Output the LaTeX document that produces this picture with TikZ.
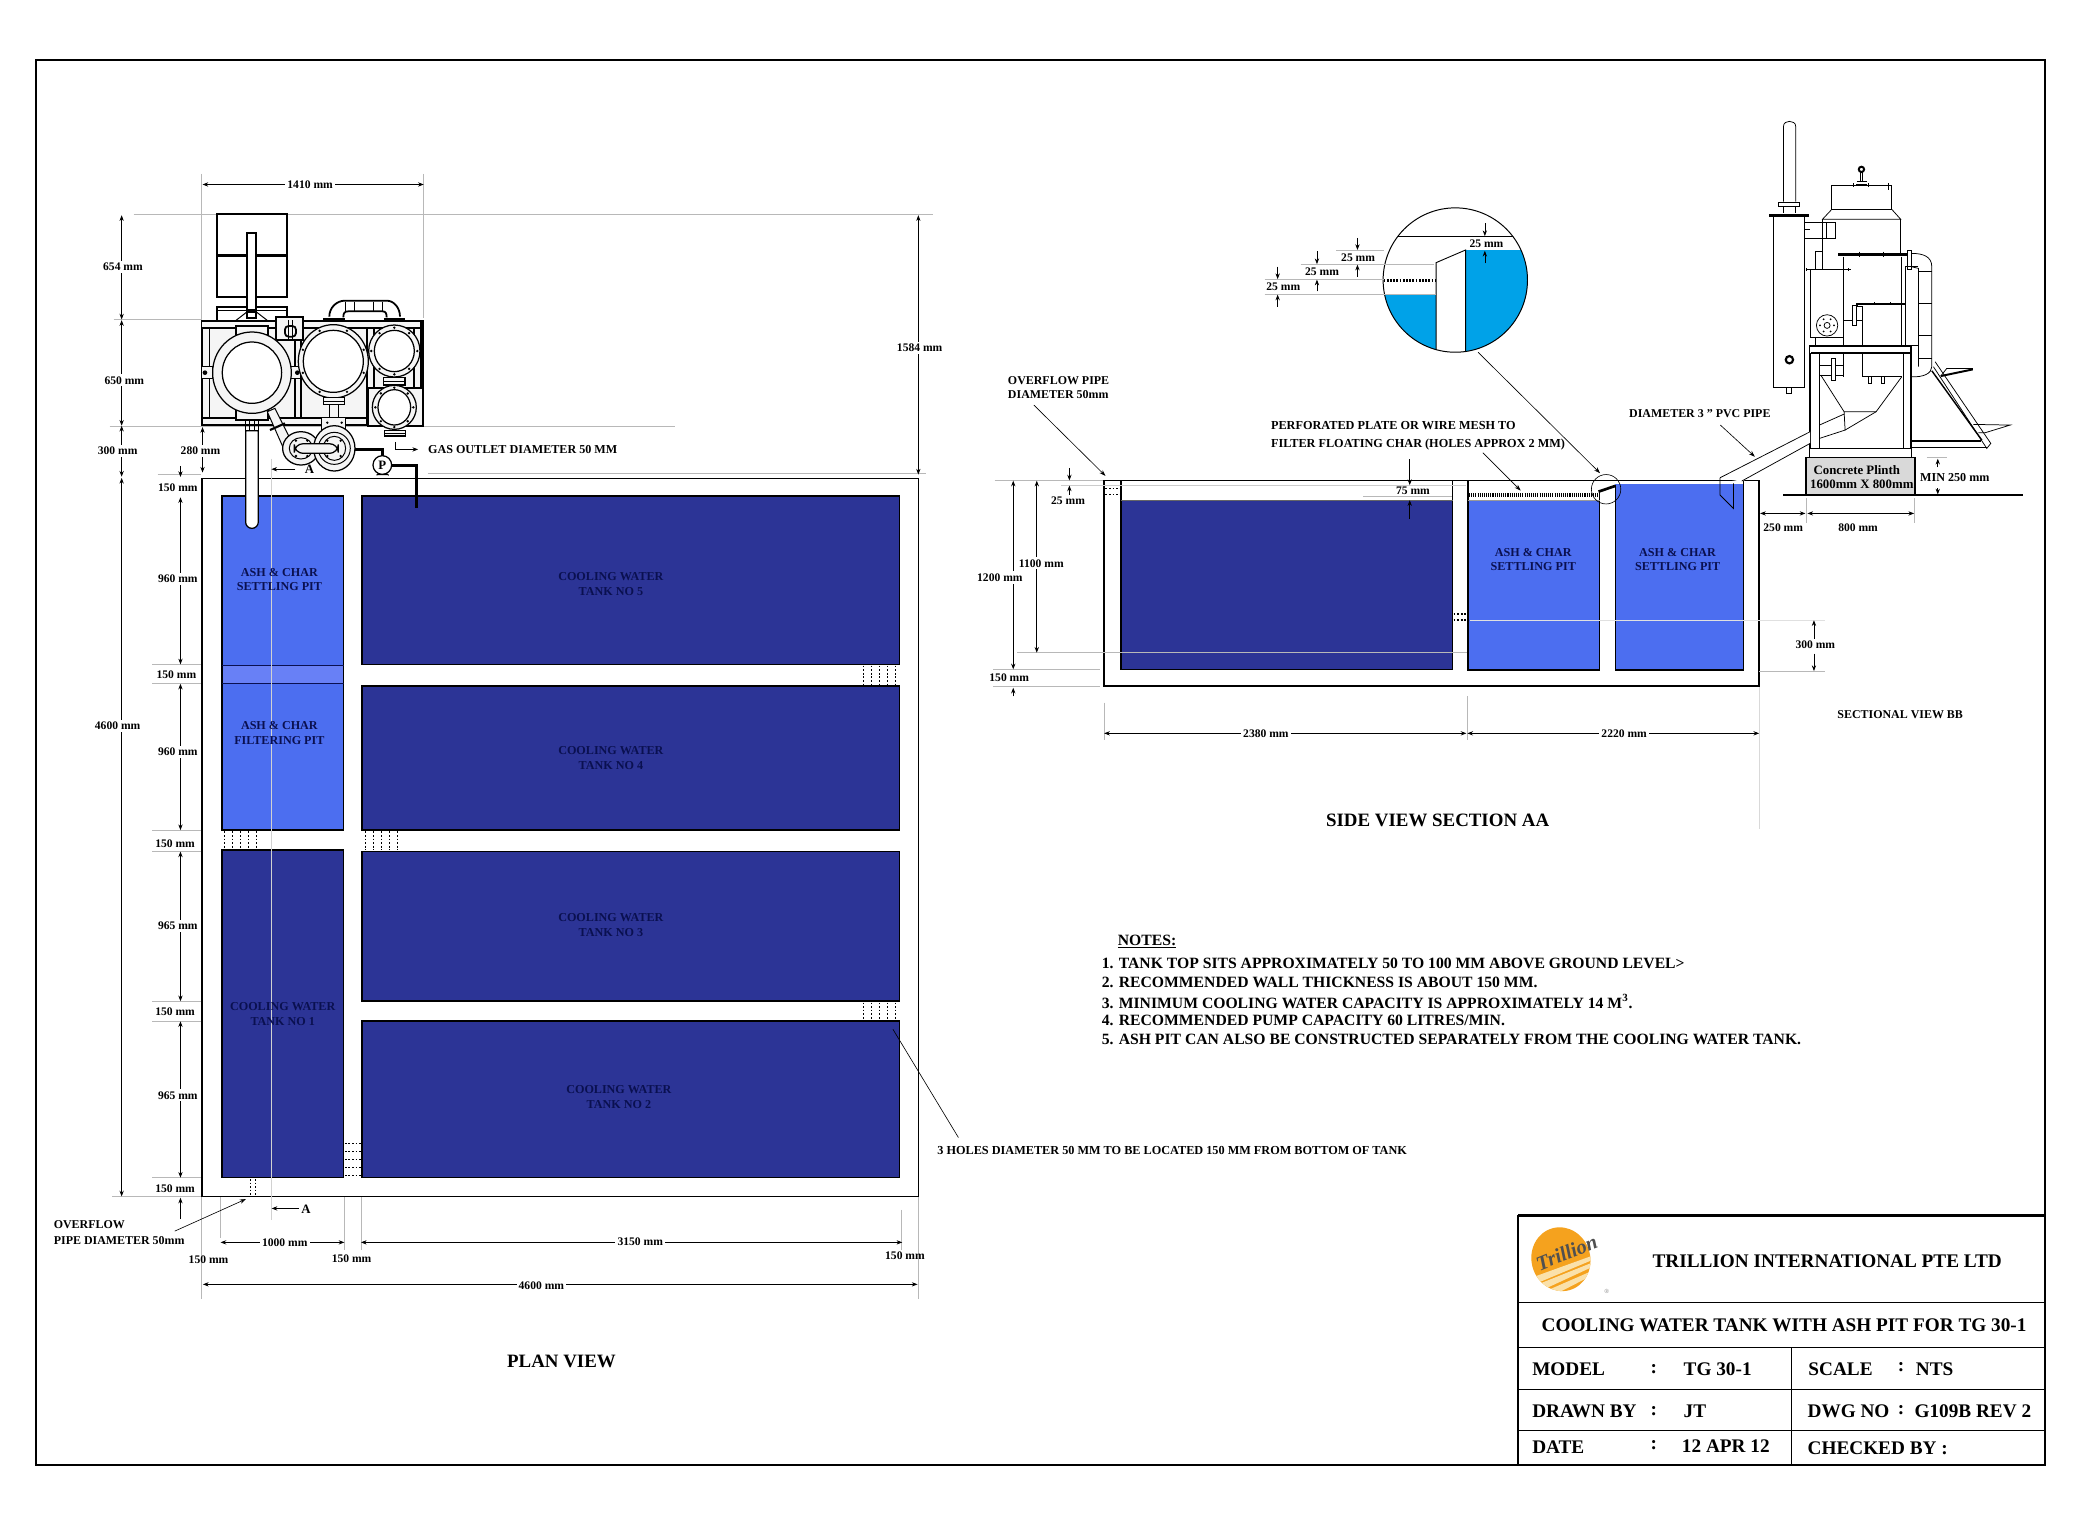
\documentclass[tikz,border=0pt]{standalone}
\usepackage{fontspec}
\setmainfont{Liberation Serif}
\usetikzlibrary{arrows.meta}
\definecolor{darkw}{RGB}{44,52,150}
\definecolor{lightw}{RGB}{76,110,240}
\definecolor{bandw}{RGB}{104,128,246}
\definecolor{cyanw}{RGB}{0,162,232}
\definecolor{navy}{RGB}{10,16,80}
\definecolor{speck}{RGB}{245,245,245}
\definecolor{plinth}{RGB}{217,217,217}
\definecolor{logoor}{RGB}{245,162,30}
\definecolor{logocr}{RGB}{250,225,170}
\definecolor{logogr}{RGB}{80,80,80}
\newcounter{lc}
\newcommand{\tl}[4][]{\stepcounter{lc}\node[lab,#1] (n\arabic{lc}) at (#2,#3) {#4};}
\tikzset{
 lab/.style={inner sep=0pt,font=\fontsize{6.5}{8.25}\selectfont\bfseries,align=center},
 tklab/.style={text=navy,font=\fontsize{6.8}{8.25}\selectfont\bfseries},
 wl/.style={fill=white,inner sep=1.2pt},
 fgas/.style={font=\fontsize{6.8}{8.25}\selectfont\bfseries},
 fnote/.style={font=\fontsize{8.8}{10}\selectfont\bfseries,anchor=west},
 fview/.style={font=\fontsize{10.6}{12}\selectfont\bfseries},
 ftit/.style={font=\fontsize{10.8}{12}\selectfont\bfseries,anchor=west},
 fann/.style={font=\fontsize{6.7}{8.1}\selectfont\bfseries,anchor=west,align=left},
 ext/.style={draw=black!28,line width=.45pt},
 thinw/.style={draw=black!15,line width=.45pt},
 dima/.style={draw=black,line width=.4pt,{Stealth[length=3.2pt,width=2.4pt]}-{Stealth[length=3.2pt,width=2.4pt]}},
 dimr/.style={draw=black,line width=.4pt,-{Stealth[length=3.2pt,width=2.4pt]}},
 lead/.style={draw=black,line width=.35pt,-{Stealth[length=3.5pt,width=2.4pt]}},
 tk/.style={draw=black,line width=.9pt},
 pl/.style={draw=black,line width=.55pt},
 sl/.style={draw=black,line width=.42pt},
 hv/.style={draw=black,line width=1pt},
 xh/.style={draw=black,line width=1.9pt},
 hole/.style={draw=black,line width=.4pt,dash pattern=on 1pt off 1pt},
}
\begin{document}
\begin{tikzpicture}[x=.75pt,y=-.75pt]
\useasboundingbox (0,0) rectangle (1568,1146);
\fill[white] (0,0) rectangle (1568,1146);
% sheet frame
\draw[draw=black,line width=1.1pt] (27,45) rectangle (1530,1096);
% ---------- PLAN: extension lines
\draw[ext] (100,160.5) -- (698,160.5);
\draw[ext] (85,239) -- (151,239);
\draw[ext] (82,318.7) -- (505,318.7);
\draw[ext] (118,355) -- (150,355);
\draw[ext] (320,354.5) -- (693,354.5);
\draw[ext] (151,130) -- (151,319);
\draw[ext] (317,130) -- (317,238);
\draw[ext] (114,497) -- (150,497);\draw[ext] (114,511) -- (150,511);
\draw[ext] (114,621) -- (150,621);\draw[ext] (114,637) -- (150,637);
\draw[ext] (114,749) -- (150,749);\draw[ext] (114,764) -- (150,764);
\draw[ext] (114,881) -- (150,881);\draw[ext] (84,895) -- (150,895);
\draw[ext] (151,895) -- (151,972);\draw[ext] (165,881) -- (165,926);
\draw[ext] (258,895) -- (258,935);\draw[ext] (270,895) -- (270,935);
\draw[ext] (674,905) -- (674,935);\draw[ext] (687,895) -- (687,972);
% ---------- PLAN: tank
\draw[tk,fill=white] (151,358) rectangle (687,895);
\filldraw[tk,fill=lightw] (166,371) rectangle (257,621);
\fill[bandw] (166.5,498) rectangle (256.5,511);
\draw[draw=navy,line width=.3pt] (166,498) -- (257,498) (166,511) -- (257,511);
\filldraw[tk,fill=darkw] (166,636) rectangle (257,881);
\filldraw[tk,fill=darkw] (271,371) rectangle (673,497);
\filldraw[tk,fill=darkw] (271,513) rectangle (673,621);
\filldraw[tk,fill=darkw] (271,637) rectangle (673,749);
\filldraw[tk,fill=darkw] (271,764) rectangle (673,881);
% holes
\foreach \x in {646,652,658,664,670}{\draw[hole] (\x,498) -- (\x,512); \draw[hole] (\x,750) -- (\x,763);}
\foreach \x in {168,174,180,186,192}{\draw[hole] (\x,622) -- (\x,635);}
\foreach \x in {273,279,285,291,297}{\draw[hole] (\x,622) -- (\x,636);}
\foreach \y in {855,861,867,873,879}{\draw[hole] (258,\y) -- (270,\y);}
\foreach \x in {187,191}{\draw[hole] (\x,882) -- (\x,894);}
% section line
\draw[draw=black!18,line width=.45pt] (202.7,343) -- (202.7,913);
% tank labels
\tl[tklab]{457}{437}{COOLING WATER\\TANK NO 5}
\tl[tklab]{457}{567}{COOLING WATER\\TANK NO 4}
\tl[tklab]{457}{692}{COOLING WATER\\TANK NO 3}
\tl[tklab]{463}{820.5}{COOLING WATER\\TANK NO 2}
\tl[tklab]{211.5}{758.5}{COOLING WATER\\TANK NO 1}
\tl[tklab]{209}{433.5}{ASH \& CHAR\\SETTLING PIT}
\tl[tklab]{209}{548.5}{ASH \& CHAR\\FILTERING PIT}
% ---------- PLAN: machine
\begin{scope}[shift={(142.1,149.6)},x=.18705pt,y=-.18705pt]
 % tower boxes
 \draw[hv] (80,42) rectangle (292,290);
 \draw[xh] (80,167) -- (292,167);
 \draw[hv] (80,320) rectangle (292,362);
 \draw[pl] (80,330) -- (292,330);
 \filldraw[hv,fill=white] (172,100) rectangle (198,355);
 \draw[xh] (172,333) -- (198,333);
 \draw[pl] (137,362) -- (172,335) (233,362) -- (198,335);
 % frame
 \filldraw[pl,fill=speck] (35,362) rectangle (700,385);
 \filldraw[hv,fill=speck] (35,385) rectangle (530,675);
 \draw[hv] (35,655) -- (530,655);
 \draw[pl] (58,385) -- (58,655);
 \draw[hv] (315,420) -- (315,655) (332,420) -- (332,655);
 \filldraw[hv,fill=speck] (530,385) rectangle (700,570);
 \draw[hv] (553,385) -- (553,565);
 \draw[hv] (672,385) -- (672,565);
 \draw[line width=1.4pt] (695,362) -- (695,678);
 \filldraw[hv,fill=speck] (535,565) rectangle (700,678);
 \draw[hv] (35,362) -- (700,362);
 % tabs
 \filldraw[pl,fill=speck] (35,498) rectangle (68,535);
 \fill (45,518) circle (7);
 \filldraw[pl,fill=speck] (303,498) rectangle (332,535);
 \fill (322,518) circle (7);
 \filldraw[hv,fill=speck] (137,378) rectangle (233,405);
 \filldraw[hv,fill=speck] (137,630) rectangle (233,660);
 % latch
 \filldraw[hv,fill=speck] (258,352) rectangle (340,420);
 \draw[hv,rounded corners=2pt] (285,378) rectangle (318,410);
 \draw[pl] (295,360) -- (295,420) (308,360) -- (308,420);
 % pipes to pump circles
 \filldraw[pl,fill=speck] (232,635) -- (285,755) -- (300,715) -- (255,625) -- cycle;
 \draw[xh,line width=1.2pt] (240,690) -- (285,670);
 % big rings
 \filldraw[hv,line width=.7pt,fill=speck] (186,518) circle[x radius=118,y radius=122];
 \filldraw[hv,line width=.7pt,fill=white] (186,518) circle[x radius=89,y radius=92];
 \filldraw[hv,line width=.7pt,fill=speck] (430,484) circle[x radius=105,y radius=110];
 \filldraw[hv,line width=.7pt,fill=white] (430,484) circle[x radius=90,y radius=93];
 \foreach \a in {20,65,115,160,200,245,295,340}{\fill ({430+97*cos(\a)},{484+101*sin(\a)}) circle (4);}
 \filldraw[hv,line width=.7pt,fill=speck] (613,453) circle[x radius=77,y radius=78];
 \filldraw[hv,line width=.7pt,fill=white] (613,453) circle[x radius=60,y radius=62];
 \foreach \a in {0,50,90,130,180,230,270,310}{\fill ({613+69*cos(\a)},{453+70*sin(\a)}) circle (4);}
 \filldraw[hv,line width=.7pt,fill=speck] (613,622) circle[x radius=66,y radius=66];
 \filldraw[hv,line width=.7pt,fill=white] (613,622) circle[x radius=49,y radius=53];
 \foreach \a in {0,45,90,135,180,225,270,315}{\fill ({613+57*cos(\a)},{622+59*sin(\a)}) circle (4);}
 % flanges
 \filldraw[hv,line width=.9pt,fill=speck] (400,593) rectangle (463,614);
 \draw[pl] (400,603) -- (463,603);
 \filldraw[hv,line width=.9pt,fill=speck] (580,533) rectangle (645,555);
 \draw[pl] (580,544) -- (645,544);
 \filldraw[hv,line width=.9pt,fill=speck] (583,692) rectangle (646,708);
 \draw[pl] (583,700) -- (646,700);
 \draw[pl] (418,614) -- (418,650) (445,614) -- (445,650);
 \filldraw[pl,fill=speck] (395,652) rectangle (468,700);
 \fill (412,668) circle (4); \fill (455,668) circle (4);
 % pump circles
 \filldraw[hv,line width=.7pt,fill=speck] (333,745) circle[x radius=55,y radius=50];
 \draw[pl] (333,745) circle[x radius=35,y radius=32];
 \filldraw[hv,line width=.7pt,fill=speck] (433,745) circle[x radius=62,y radius=68];
 \draw[pl] (433,745) circle[x radius=48,y radius=48];
 \draw[pl] (433,745) circle[x radius=34,y radius=36];
 \foreach \p in {(318,722),(352,722),(318,768),(352,768),(412,722),(452,722),(412,768),(452,768)}{\fill \p circle (4);}
 \draw[pl,line width=.7pt,fill=speck,rounded corners=5pt] (313,731) rectangle (445,760);
 % gas pipe to pump
 \draw[line width=1.5pt] (495,748) -- (578,748) -- (578,770);
 \filldraw[hv,line width=.7pt,fill=white] (577,795) circle (28);
 \draw[pl] (560,824) -- (595,824) (566,820) -- (560,826) (589,820) -- (596,826);
 \tl[font=\fontsize{7.2}{8}\selectfont\bfseries]{577}{795}{P}
 \draw[line width=2pt] (605,797) -- (680,797) -- (680,925);
 % top arch
 \draw[hv] (418,350) arc[start angle=180,end angle=270,x radius=47,y radius=48] -- (590,302) arc[start angle=270,end angle=360,x radius=40,y radius=48];
 \draw[hv] (460,352) .. controls (460,338) and (465,334) .. (475,334) -- (578,334) .. controls (588,334) and (590,342) .. (590,352);
 \draw[pl] (468,305) -- (468,334) (495,305) -- (495,334) (550,305) -- (550,334) (578,305) -- (578,334);
 \draw[xh,line width=1.4pt] (400,358) -- (465,358) (582,358) -- (645,358);
 % settling pipe
 \draw[pl] (167,660) -- (167,690) (205,660) -- (205,690) (180,660) -- (180,690) (193,660) -- (193,690);
 \filldraw[hv,line width=.7pt,fill=white] (167,692) -- (167,966) arc[start angle=180,end angle=0,radius=19] -- (205,692) -- cycle;
\end{scope}
% ---------- PLAN: dimensions
\draw[dima] (151.5,138) -- (317,138); \tl[wl]{232}{138}{1410 mm}
\draw[dima] (91,161) -- (91,239); \tl[wl]{92}{199.5}{654 mm}
\draw[dima] (91,239.5) -- (91,318.5); \tl[wl]{93}{284.5}{650 mm}
\draw[dima] (91,318.5) -- (91,356.6); \tl[wl]{88}{337.5}{300 mm}
\draw[dima] (91,357.5) -- (91,895); \tl[wl]{88}{543}{4600 mm}
\draw[dima] (151.5,319.5) -- (151.5,353.5); \tl[wl]{150}{337.5}{280 mm}
\draw[dimr] (135,348.6) -- (135,356.8);
\tl{133}{364.5}{150 mm}
\draw[dima] (135,372) -- (135,497); \tl[wl]{133}{433}{960 mm}
\tl[wl]{132}{505}{150 mm}
\draw[dima] (135,511.5) -- (135,621); \tl[wl]{133}{562.5}{960 mm}
\tl[wl]{131}{631}{150 mm}
\draw[dima] (135,637) -- (135,749); \tl[wl]{133}{692.5}{965 mm}
\tl[wl]{131}{757}{150 mm}
\draw[dima] (135,764) -- (135,881); \tl[wl]{133}{819.5}{965 mm}
\tl[wl]{131}{889}{150 mm}
\draw[dimr] (135,912) -- (135,896);
\draw[dima] (687,161) -- (687,355); \tl[wl]{688}{260}{1584 mm}
\draw[dima] (165,929.4) -- (257.6,929.4); \tl[wl]{213}{930}{1000 mm}
\draw[dima] (270,929.4) -- (675,929.4); \tl[wl]{479}{929}{3150 mm}
\draw[dima] (151.8,960.8) -- (686.4,960.8); \tl[wl]{405}{961.5}{4600 mm}
\tl{156}{942}{150 mm}
\tl{263}{941.5}{150 mm}
\tl{677}{939}{150 mm}
% section marks and annotations
\draw[dimr] (221,351) -- (203,351); \tl[font=\fontsize{7.2}{8}\selectfont\bfseries]{231.5}{351}{A}
\draw[dimr] (223.7,904) -- (203.2,904); \tl[font=\fontsize{7.2}{8}\selectfont\bfseries]{229}{904.5}{A}
\draw[dimr] (295.6,330.5) -- (295.6,336.2) -- (312.8,336.2);
\tl[fann,fgas]{320}{336}{GAS OUTLET DIAMETER 50 MM}
\tl[fann]{40}{916}{OVERFLOW}
\tl[fann]{40}{928}{PIPE DIAMETER 50mm}
\draw[lead] (130.7,921) -- (184,897);
\coordinate (holesEnd) at (717,851);
\draw[draw=black,line width=.35pt] (668,770) -- (holesEnd);
\tl[fann,font=\fontsize{6.87}{8}\selectfont\bfseries]{701}{860.5}{3 HOLES DIAMETER 50 MM TO BE LOCATED 150 MM FROM BOTTOM OF TANK}
\tl[fview]{420}{1018.5}{PLAN VIEW}
% ---------- SIDE VIEW
\draw[ext] (744,359.6) -- (826,359.6);
\draw[ext] (743,500.7) -- (823,500.7);
\draw[ext] (743,513.5) -- (823,513.5);
\draw[ext] (826,525.7) -- (826,553.6);
\draw[ext] (1097.7,521) -- (1097.7,553.6);
\draw[thinw] (1316,514) -- (1316,620);
\draw[tk] (826,359.6) rectangle (1316,513.3);
\fill[darkw] (838.5,374) rectangle (1086.6,500.7);
\fill[lightw] (1098,374) rectangle (1196.6,501);
\fill[lightw] (1208.4,362) rectangle (1304.2,501);
\draw[tk] (838.5,359.6) -- (838.5,500.7) -- (1086.6,500.7) -- (1086.6,359.6);
\draw[tk] (1098,359.6) -- (1098,501) -- (1196.6,501) -- (1196.6,367.8);
\draw[tk] (1208.4,363) -- (1208.4,501) -- (1304.2,501) -- (1304.2,359.6);
\draw[line width=.3pt,draw=black!60] (838.5,374) -- (1086.6,374);
\draw[line width=.3pt,draw=black!40] (1098,374) -- (1196.6,374);
% weir, mesh, section lines
\draw[line width=1.5pt] (1195.8,367.8) -- (1208.4,363.5);
\draw[draw=black,line width=2.4pt,dash pattern=on .6pt off .6pt] (1098.9,370.5) -- (1195,370.5);
\draw[ext] (761,488.3) -- (1097.7,488.3);
\draw[ext,draw=black!20] (794,363) -- (1097,363);
\draw[ext] (1020,371) -- (1086,371);
\draw[ext,draw=black!12] (1100,464) -- (1365,464);
\draw[ext] (1316,502) -- (1365,502);
% holes
\foreach \y in {365.3,369.8}{\draw[hole,line width=.7pt] (827,\y) -- (838,\y);}
\foreach \y in {459.3,463.8}{\draw[hole,line width=.7pt] (1087.5,\y) -- (1097.2,\y);}
% labels
\tl[tklab]{1147}{418.5}{ASH \& CHAR\\SETTLING PIT}
\tl[tklab]{1255}{418.5}{ASH \& CHAR\\SETTLING PIT}
% side dims
\draw[dima] (758,359.6) -- (758,500.7); \tl[wl]{748}{432}{1200 mm}
\draw[dima] (775.6,359.6) -- (775.6,488.3); \tl[wl]{779}{421.5}{1100 mm}
\tl{755}{507}{150 mm}
\draw[dimr] (758,521) -- (758,514.5);
\draw[dimr] (800,350) -- (800,359.4);
\draw[dimr] (800,370) -- (800,363.2);
\tl{799}{374.5}{25 mm}
\draw[dimr] (1054.6,343.6) -- (1054.6,362.9);
\draw[dimr] (1054.6,388) -- (1054.6,374.2);
\tl{1057}{367.5}{75 mm}
\draw[dima] (826,548.6) -- (1097,548.6); \tl[wl]{947}{548.5}{2380 mm}
\draw[dima] (1097.7,548.6) -- (1316,548.6); \tl[wl]{1215}{549}{2220 mm}
\draw[dimr] (1357,478) -- (1357,464);
\draw[dimr] (1357,489) -- (1357,502);
\tl{1358}{482.5}{300 mm}
\tl[font=\fontsize{6.7}{8}\selectfont\bfseries]{1421.5}{534.5}{SECTIONAL VIEW BB}
\tl[fview]{1075.5}{613.5}{SIDE VIEW SECTION AA}
% annotations
\tl[fann]{753.8}{290}{OVERFLOW PIPE\\DIAMETER 50mm}
\draw[lead] (773.4,303) -- (827,356);
\tl[fann,font=\fontsize{6.87}{10.2}\selectfont\bfseries]{950.6}{326}{PERFORATED PLATE OR WIRE MESH TO\\FILTER FLOATING CHAR (HOLES APPROX 2 MM)}
\draw[lead] (1109.3,338.7) -- (1137.6,367);
\tl[fann]{1218.5}{309.5}{DIAMETER 3 " PVC PIPE}
\draw[lead] (1287,318) -- (1312.8,341.7);
% small detail circle and leader
\coordinate (detA) at (1105.7,263.5);
\coordinate (detB) at (1197,354);
\draw[lead] (detA) -- (detB);
\draw[draw=black,line width=.35pt] (1201.5,366) circle (11);
% ---------- DETAIL CIRCLE
\begin{scope}
 \clip (1088.7,209.5) circle (54);
 \fill[white] (1034,155) rectangle (1144,264);
 \fill[cyanw] (1096.4,187) rectangle (1144,264);
 \fill[cyanw] (1034,220.7) rectangle (1074.3,264);
 \draw[line width=.7pt] (1030,176.8) -- (1147,176.8);
 \draw[line width=.5pt] (1074.3,264) -- (1074.3,196.5) -- (1096.4,187) -- (1096.4,264);
 \draw[line width=1.4pt,dash pattern=on 1pt off .8pt] (1035,209.7) -- (1073.5,209.7);
\end{scope}
\draw[draw=black,line width=.55pt] (1088.7,209.5) circle (54);
\draw[ext] (999.5,187.3) -- (1035,187.3);
\draw[ext] (973,197.8) -- (1073,197.8);
\draw[ext] (946,209) -- (1035,209);
\draw[ext] (946,220.2) -- (1074,220.2);
\draw[dimr] (1015.5,178) -- (1015.5,187);
\draw[dimr] (1015.5,207) -- (1015.5,198);
\draw[dimr] (985.2,188) -- (985.2,197.6);
\draw[dimr] (985.2,218) -- (985.2,209.2);
\draw[dimr] (955.8,199.5) -- (955.8,208.8);
\draw[dimr] (955.8,229.5) -- (955.8,220.4);
\draw[dimr] (1110.8,167) -- (1110.8,176.6);
\draw[dimr] (1110.8,197) -- (1110.8,187.6);
\tl{1016}{192.5}{25 mm}
\tl{989}{203}{25 mm}
\tl{960}{214.5}{25 mm}
\tl{1112}{182.5}{25 mm}
% ---------- SIDE MACHINE
\begin{scope}[shift={(1271.8,82.3)},x=.18705pt,y=-.18705pt]
 % stack
 \draw[sl] (250,275) -- (250,50) .. controls (250,38) and (260,34) .. (268,34) .. controls (277,34) and (287,38) .. (287,50) -- (287,275);
 \filldraw[sl,fill=white] (235,277) rectangle (297,290);
 \draw[sl] (250,290) -- (250,310) (287,290) -- (287,310);
 \draw[line width=1.7pt] (207,315) -- (327,315);
 \draw[sl] (220,320) rectangle (313,833);
 \draw[sl] (258,833) rectangle (275,851);
 \draw[line width=1.2pt] (268,749) circle (11);
 \draw[sl] (313,337) rectangle (406,385);
 \draw[sl] (380,337) -- (380,385) (313,358) -- (330,358);
 % top of reactor
 \draw[line width=1.1pt,fill=white] (484,178) circle (8);
 \draw[sl] (480,187) -- (480,215) (488,187) -- (488,215) (468,222) -- (502,222) (470,215) -- (500,215);
 \draw[sl] (395,226) rectangle (575,298);
 \draw[sl] (395,226) -- (395,242) (575,226) -- (575,242) (460,220) -- (460,232) (505,220) -- (505,232) (565,220) -- (565,240);
 \draw[sl] (395,298) -- (367,328) -- (602,328) -- (575,298);
 \draw[sl] (367,328) -- (367,478) (602,328) -- (602,430);
 \draw[sl] (347,425) rectangle (367,478);
 \draw[line width=1.6pt] (415,433) -- (620,433);
 \draw[sl] (478,425) -- (478,442) (550,425) -- (550,442);
 % right pipe
 \draw[sl] (634,430) .. controls (670,430) and (695,440) .. (695,470) -- (695,770) .. controls (695,790) and (670,802) .. (634,800);
 \draw[sl] (634,470) -- (655,475) -- (655,770);
 \foreach \y in {485,580,677}{\draw[sl] (655,\y) -- (695,\y);}
 \draw[sl] (655,745) -- (695,745);
 \filldraw[sl,fill=white] (622,420) rectangle (634,478);
 % body
 \draw[sl] (330,478) rectangle (430,682);
 \draw[sl] (318,479) -- (452,479) (318,474) -- (318,484) (445,474) -- (445,484);
 \draw[sl] (430,440) -- (430,682);
 \draw[sl] (604,440) -- (604,705) (615,470) -- (615,705);
 \draw[sl] (655,470) -- (615,470) (347,682) rectangle (430,707);
 \draw[sl] (615,705) -- (655,705);
 \draw[sl] (381,646) circle (32);
 \draw[sl] (381,646) circle (9);
 \foreach \a in {0,60,...,300}{\fill ({381+21*cos(\a)},{646+21*sin(\a)}) circle (3);}
 \draw[line width=1.1pt] (470,590) -- (470,581) -- (615,581);
 \draw[sl] (488,590) -- (488,705) (430,630) -- (488,630) (470,590) -- (488,590);
 \foreach \x in {522,570}{\draw[sl] (\x,576) -- (\x,586);}
 \filldraw[sl,fill=white] (458,585) rectangle (470,647);
 % deck
 \draw[line width=1.3pt] (328,707) -- (632,707) (332,729) -- (632,729);
 \draw[sl] (328,707) -- (328,729);
 \draw[line width=1.1pt] (632,705) -- (632,729);
 % under deck
 \draw[line width=1.1pt] (330,729) -- (330,1015) (634,729) -- (634,1015);
 \draw[sl] (358,729) -- (358,1015) (610,729) -- (610,1015);
 \draw[sl] (430,730) -- (430,800) (488,730) -- (488,800) -- (605,800);
 \draw[sl] (358,765) -- (430,765) (358,795) -- (430,795);
 \draw[sl] (505,800) rectangle (515,820) (543,800) rectangle (553,820);
 \filldraw[sl,fill=white] (393,745) rectangle (405,812);
 % hopper
 \draw[sl] (362,795) -- (432,905) -- (528,905) -- (605,800);
 \draw[sl] (432,905) -- (435,960) -- (528,905);
 \draw[sl] (358,945) -- (432,912);
 \draw[sl] (358,985) -- (435,960);
 % ramp
 \draw[sl] (700,770) -- (860,1015) -- (872,1000) -- (705,755);
 \draw[line width=.8pt] (695,782) -- (845,990);
 \draw[line width=1.1pt] (722,798) -- (818,778);
 \draw[sl] (722,798) -- (740,775) -- (818,775);
 \draw[sl] (820,943) -- (930,945) -- (855,968) -- (835,968);
 \draw[line width=1.5pt] (635,993) -- (842,993);
 \draw[sl] (635,1013) -- (860,1013);
 % plinth
 \draw[sl] (328,1015) rectangle (635,1042);
 \filldraw[hv,fill=plinth] (318,1042) rectangle (645,1155);
 \tl[font=\fontsize{7.2}{9}\selectfont\bfseries]{470}{1080}{Concrete Plinth}
 \tl[font=\fontsize{7.2}{9}\selectfont\bfseries]{485}{1124}{1600mm X 800mm}
 \draw[line width=1.1pt] (250,1155) -- (968,1155);
 % tank wall stub and pipe
 \filldraw[draw=none,fill=white] (60,1103) -- (330,965) -- (330,1000) -- (125,1115) -- cycle;
 \draw[sl] (60,1103) -- (330,965);
 \draw[sl] (125,1113) -- (330,1000);
 \draw[sl] (60,1103) -- (60,1155) -- (100,1195) -- (100,1120);
 % dims
 \draw[ext] (680,1042) -- (740,1042);
 \draw[dimr] (713,1072) -- (713,1046);
 \draw[dimr] (713,1135) -- (713,1153);
 \tl[font=\fontsize{6.8}{8}\selectfont\bfseries]{764}{1103}{MIN 250 mm}
 \draw[ext] (319,1165) -- (319,1240) (643,1165) -- (643,1240);
 \draw[dima] (180,1210) -- (316,1210);
 \draw[dima] (322,1210) -- (642,1210);
\end{scope}
\tl{1334}{394.5}{250 mm}
\tl{1390}{394.5}{800 mm}
% ---------- NOTES
\tl[fnote]{836}{704.5}{\underline{NOTES:}}
\tl[fnote]{824}{720.5}{1. TANK TOP SITS APPROXIMATELY 50 TO 100 MM ABOVE GROUND LEVEL>}
\tl[fnote]{824}{735}{2. RECOMMENDED WALL THICKNESS IS ABOUT 150 MM.}
\tl[fnote]{824}{749}{3. MINIMUM COOLING WATER CAPACITY IS APPROXIMATELY 14 M\textsuperscript{3}.}
\tl[fnote]{824}{763}{4. RECOMMENDED PUMP CAPACITY 60 LITRES/MIN.}
\tl[fnote]{824}{777.5}{5. ASH PIT CAN ALSO BE CONSTRUCTED SEPARATELY FROM THE COOLING WATER TANK.}
% ---------- TITLE BLOCK
\filldraw[draw=black,line width=.9pt,fill=white] (1135.6,909.4) rectangle (1530,1096);
\draw[line width=1.5pt] (1135.6,909.4) -- (1530,909.4);
\draw[line width=.6pt] (1135.6,974.3) -- (1530,974.3);
\draw[line width=.6pt] (1135.6,1007.7) -- (1530,1007.7);
\draw[line width=.6pt] (1135.6,1039.4) -- (1530,1039.4);
\draw[line width=.6pt] (1135.6,1069.8) -- (1530,1069.8);
\draw[line width=.6pt] (1340.4,1007.7) -- (1340.4,1096);
% logo
\path[fill=logoor,rotate around={15:(1167.7,942)}] (1167.7,942) circle[x radius=22,y radius=24];
\begin{scope}
 \clip[rotate around={15:(1167.7,942)}] (1167.7,942) circle[x radius=22,y radius=24];
 \fill[logocr] (1148,955) -- (1195,938) -- (1195,941) -- (1152,959) -- cycle;
 \fill[logocr] (1150,961) -- (1195,943) -- (1195,946) -- (1155,964.5) -- cycle;
 \fill[logocr] (1156,966) -- (1195,949) -- (1195,952) -- (1164,968) -- cycle;
\end{scope}
\tl[text=logogr,rotate=22,font=\fontsize{11.5}{12}\selectfont\bfseries\itshape]{1172}{937}{Trillion}
\tl[text=black!50,font=\fontsize{3.5}{4}\selectfont]{1202}{966}{®}
\tl[ftit]{1236}{943.5}{TRILLION INTERNATIONAL PTE LTD}
\tl[ftit]{1153}{991.5}{COOLING WATER TANK WITH ASH PIT FOR TG 30-1}
\tl[ftit]{1146}{1024}{MODEL}
\tl[ftit]{1234.5}{1024}{:}
\tl[ftit]{1259.3}{1024}{TG 30-1}
\tl[ftit]{1352.6}{1024}{SCALE}
\tl[ftit]{1419.5}{1023}{:}
\tl[ftit]{1433}{1024}{NTS}
\tl[ftit]{1146}{1055.5}{DRAWN BY}
\tl[ftit]{1234.5}{1055.5}{:}
\tl[ftit]{1259.3}{1055.5}{JT}
\tl[ftit]{1352}{1055.5}{DWG NO}
\tl[ftit]{1419.5}{1055}{:}
\tl[ftit]{1432}{1055.5}{G109B REV 2}
\tl[ftit]{1146}{1082.5}{DATE}
\tl[ftit]{1234.5}{1081}{:}
\tl[ftit]{1258}{1082}{12 APR 12}
\tl[ftit]{1352}{1083.5}{CHECKED BY :}
\end{tikzpicture}
\end{document}
